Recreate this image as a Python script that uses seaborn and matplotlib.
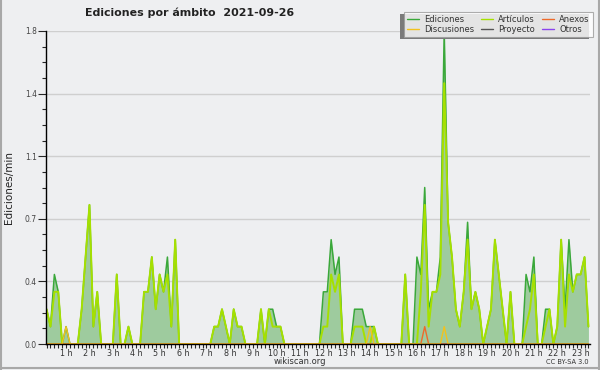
import matplotlib
matplotlib.use('Agg')
import matplotlib.pyplot as plt
import seaborn as sns
import pandas as pd
from matplotlib.ticker import MultipleLocator, FormatStrFormatter
from matplotlib.patches import Rectangle
from matplotlib.lines import Line2D
from matplotlib.transforms import IdentityTransform

# edits per minute, 10-minute bins (bin 0 = 00:10)
ediciones = [
    0.2, 0.1, 0.4, 0.3, 0.0, 0.1, 0.0, 0.0, 0.0, 0.2,
    0.5, 0.8, 0.1, 0.3, 0.0, 0.0, 0.0, 0.0, 0.4, 0.0,
    0.0, 0.1, 0.0, 0.0, 0.0, 0.3, 0.3, 0.5, 0.2, 0.4,
    0.3, 0.5, 0.1, 0.6, 0.0, 0.0, 0.0, 0.0, 0.0, 0.0,
    0.0, 0.0, 0.0, 0.1, 0.1, 0.2, 0.1, 0.0, 0.2, 0.1,
    0.1, 0.0, 0.0, 0.0, 0.0, 0.2, 0.0, 0.2, 0.2, 0.1,
    0.1, 0.0, 0.0, 0.0, 0.0, 0.0, 0.0, 0.0, 0.0, 0.0,
    0.0, 0.3, 0.3, 0.6, 0.4, 0.5, 0.0, 0.0, 0.0, 0.2,
    0.2, 0.2, 0.1, 0.1, 0.1, 0.0, 0.0, 0.0, 0.0, 0.0,
    0.0, 0.0, 0.4, 0.0, 0.0, 0.5, 0.4, 0.9, 0.2, 0.3,
    0.3, 0.5, 1.8, 0.7, 0.5, 0.2, 0.1, 0.3, 0.7, 0.2,
    0.3, 0.2, 0.0, 0.1, 0.2, 0.6, 0.4, 0.2, 0.0, 0.3,
    0.0, 0.0, 0.0, 0.4, 0.3, 0.5, 0.0, 0.0, 0.2, 0.2,
    0.0, 0.1, 0.6, 0.2, 0.6, 0.3, 0.4, 0.4, 0.5, 0.1,
]
articulos = [
    0.2, 0.1, 0.3, 0.3, 0.0, 0.0, 0.0, 0.0, 0.0, 0.2,
    0.5, 0.8, 0.1, 0.3, 0.0, 0.0, 0.0, 0.0, 0.4, 0.0,
    0.0, 0.1, 0.0, 0.0, 0.0, 0.3, 0.3, 0.5, 0.2, 0.4,
    0.3, 0.4, 0.1, 0.6, 0.0, 0.0, 0.0, 0.0, 0.0, 0.0,
    0.0, 0.0, 0.0, 0.1, 0.1, 0.2, 0.1, 0.0, 0.2, 0.1,
    0.1, 0.0, 0.0, 0.0, 0.0, 0.2, 0.0, 0.2, 0.1, 0.1,
    0.1, 0.0, 0.0, 0.0, 0.0, 0.0, 0.0, 0.0, 0.0, 0.0,
    0.0, 0.1, 0.1, 0.4, 0.3, 0.4, 0.0, 0.0, 0.0, 0.1,
    0.1, 0.1, 0.0, 0.0, 0.1, 0.0, 0.0, 0.0, 0.0, 0.0,
    0.0, 0.0, 0.4, 0.0, 0.0, 0.0, 0.3, 0.8, 0.1, 0.3,
    0.3, 0.4, 1.5, 0.7, 0.5, 0.2, 0.1, 0.3, 0.6, 0.2,
    0.3, 0.2, 0.0, 0.1, 0.2, 0.6, 0.4, 0.2, 0.0, 0.3,
    0.0, 0.0, 0.0, 0.1, 0.2, 0.4, 0.0, 0.0, 0.1, 0.2,
    0.0, 0.1, 0.6, 0.1, 0.4, 0.3, 0.4, 0.4, 0.5, 0.1,
]
anexos = [
    0.0, 0.0, 0.0, 0.0, 0.0, 0.0, 0.0, 0.0, 0.0, 0.0,
    0.0, 0.0, 0.0, 0.0, 0.0, 0.0, 0.0, 0.0, 0.0, 0.0,
    0.0, 0.0, 0.0, 0.0, 0.0, 0.0, 0.0, 0.0, 0.0, 0.0,
    0.0, 0.0, 0.0, 0.0, 0.0, 0.0, 0.0, 0.0, 0.0, 0.0,
    0.0, 0.0, 0.0, 0.0, 0.0, 0.0, 0.0, 0.0, 0.0, 0.0,
    0.0, 0.0, 0.0, 0.0, 0.0, 0.0, 0.0, 0.0, 0.0, 0.0,
    0.0, 0.0, 0.0, 0.0, 0.0, 0.0, 0.0, 0.0, 0.0, 0.0,
    0.0, 0.0, 0.0, 0.0, 0.0, 0.0, 0.0, 0.0, 0.0, 0.0,
    0.0, 0.0, 0.0, 0.0, 0.0, 0.0, 0.0, 0.0, 0.0, 0.0,
    0.0, 0.0, 0.0, 0.0, 0.0, 0.0, 0.0, 0.1, 0.0, 0.0,
    0.0, 0.0, 0.0, 0.0, 0.0, 0.0, 0.0, 0.0, 0.0, 0.0,
    0.0, 0.0, 0.0, 0.0, 0.0, 0.0, 0.0, 0.0, 0.0, 0.0,
    0.0, 0.0, 0.0, 0.0, 0.0, 0.0, 0.0, 0.0, 0.0, 0.0,
    0.0, 0.0, 0.0, 0.0, 0.0, 0.0, 0.0, 0.0, 0.0, 0.0,
]
discusiones = [
    0.0, 0.0, 0.0, 0.0, 0.0, 0.1, 0.0, 0.0, 0.0, 0.0,
    0.0, 0.0, 0.0, 0.0, 0.0, 0.0, 0.0, 0.0, 0.0, 0.0,
    0.0, 0.0, 0.0, 0.0, 0.0, 0.0, 0.0, 0.0, 0.0, 0.0,
    0.0, 0.0, 0.0, 0.0, 0.0, 0.0, 0.0, 0.0, 0.0, 0.0,
    0.0, 0.0, 0.0, 0.0, 0.0, 0.0, 0.0, 0.0, 0.0, 0.0,
    0.0, 0.0, 0.0, 0.0, 0.0, 0.0, 0.0, 0.0, 0.0, 0.0,
    0.0, 0.0, 0.0, 0.0, 0.0, 0.0, 0.0, 0.0, 0.0, 0.0,
    0.0, 0.0, 0.0, 0.0, 0.0, 0.0, 0.0, 0.0, 0.0, 0.0,
    0.0, 0.0, 0.0, 0.1, 0.0, 0.0, 0.0, 0.0, 0.0, 0.0,
    0.0, 0.0, 0.0, 0.0, 0.0, 0.0, 0.0, 0.0, 0.0, 0.0,
    0.0, 0.0, 0.1, 0.0, 0.0, 0.0, 0.0, 0.0, 0.0, 0.0,
    0.0, 0.0, 0.0, 0.0, 0.0, 0.0, 0.0, 0.0, 0.0, 0.0,
    0.0, 0.0, 0.0, 0.0, 0.0, 0.0, 0.0, 0.0, 0.0, 0.0,
    0.0, 0.0, 0.0, 0.0, 0.0, 0.0, 0.0, 0.0, 0.0, 0.0,
]
proyecto = [0.0] * len(ediciones)
otros = [0.0] * len(ediciones)

hour_labels = ['1 h', '2 h', '3 h', '4 h', '5 h', '6 h', '7 h', '8 h', '9 h', '10 h',
               '11 h', '12 h', '13 h', '14 h', '15 h', '16 h', '17 h', '18 h', '19 h',
               '20 h', '21 h', '22 h', '23 h']
ytick_vals = [0.0, 0.36, 0.72, 1.08, 1.44, 1.8]

df = pd.DataFrame({'bin': range(len(ediciones)), 'Ediciones': ediciones,
                   'Artículos': articulos, 'Anexos': anexos,
                   'Discusiones': discusiones, 'Proyecto': proyecto, 'Otros': otros})

colors = {'Ediciones': '#3aa83a', 'Artículos': '#a6e000', 'Anexos': '#ee6a2a',
          'Discusiones': '#f2c21e', 'Proyecto': '#555555', 'Otros': '#8a44ee'}
widths = {'Ediciones': 1.1, 'Artículos': 1.4, 'Anexos': 1.0,
          'Discusiones': 1.0, 'Proyecto': 1.0, 'Otros': 1.0}

sns.set_style('white')
plt.rcParams['font.family'] = ['DejaVu Sans']
bg = '#eeeff1'

fig = plt.figure(figsize=(6, 3.7), dpi=100, facecolor=bg)
ax = fig.add_axes([46/600, 26/370, 544/600, 313/370])
ax.set_facecolor(bg)

ax.fill_between(df['bin'], df['Ediciones'], color='#9ecb9e', lw=0, zorder=1)
handles = {}
for name, z in [('Proyecto', 2), ('Otros', 2), ('Ediciones', 3), ('Artículos', 4),
                ('Anexos', 5), ('Discusiones', 5)]:
    sns.lineplot(data=df, x='bin', y=name, ax=ax, color=colors[name], lw=widths[name],
                 zorder=z, legend=False)
    handles[name] = Line2D([0], [0], color=colors[name], lw=1.0)

ax.set_xlim(-0.15, 139.4)
ax.set_ylim(0, 1.8)
ax.set_xticks([6 * h - 1 for h in range(1, 24)])
ax.set_xticklabels(hour_labels)
ax.xaxis.set_minor_locator(MultipleLocator(1))
ax.set_yticks(ytick_vals)
ax.yaxis.set_major_formatter(FormatStrFormatter('%.1f'))
ax.yaxis.set_minor_locator(MultipleLocator(0.09))
ax.tick_params(axis='x', which='major', length=3, width=0.8, pad=0.5,
               labelsize=5.8, labelcolor='#333333', bottom=True)
ax.tick_params(axis='x', which='minor', length=3, width=0.8, bottom=True)
ax.tick_params(axis='y', which='major', length=6, width=0.8, pad=0.5,
               labelsize=5.5, labelcolor='#444444', left=True)
ax.tick_params(axis='y', which='minor', length=3, width=0.8, left=True)
ax.set_xlabel('')
ax.set_ylabel('')
ax.grid(axis='y', which='major', color='#cfcfcf', lw=1)
ax.set_axisbelow(True)
for side in ['top', 'right']:
    ax.spines[side].set_visible(False)
for side in ['left', 'bottom']:
    ax.spines[side].set_color('black')
    ax.spines[side].set_linewidth(1)
    ax.spines[side].set_zorder(10)

fig.text(9/600, 1 - 188/370, 'Ediciones/min', rotation=90, ha='center', va='center',
         fontsize=7.5, color='#222222')
fig.text(85/600, 1 - 13/370, 'Ediciones por ámbito  2021-09-26', ha='left', va='center',
         fontsize=7.9, fontweight='bold', color='#222222')
fig.text(300/600, 1 - 361.5/370, 'wikiscan.org', ha='center', va='center',
         fontsize=6, color='#333333')
fig.text(589/600, 1 - 362.5/370, 'CC BY-SA 3.0', ha='right', va='center',
         fontsize=4.8, color='#333333')

order = ['Ediciones', 'Discusiones', 'Artículos', 'Proyecto', 'Anexos', 'Otros']
leg = fig.legend([handles[n] for n in order], order, ncol=3, loc='upper right',
                 bbox_to_anchor=(592.7/600, 1 - 11.7/370), bbox_transform=fig.transFigure,
                 frameon=True, fancybox=False, fontsize=6, handlelength=1.5,
                 handletextpad=0.6, columnspacing=0.8, labelspacing=0.15,
                 borderpad=0.35, borderaxespad=0)
leg.get_frame().set_facecolor('white')
leg.get_frame().set_edgecolor('#9a9a9a')
leg.get_frame().set_linewidth(0.8)
leg.set_zorder(6)
for t in leg.get_texts():
    t.set_color('#333333')

fig.canvas.draw()
bb = leg.get_window_extent()
fig.add_artist(Rectangle((bb.x0 - 3.7, bb.y0 - 2.7), bb.width, bb.height,
                         facecolor='#7a7a7a', edgecolor='none', zorder=5,
                         transform=IdentityTransform()))

for xs, ys in [([0.8/600, 0.8/600], [0, 1]), ([598.5/600, 598.5/600], [0, 1]),
               ([0, 1], [2.5/370, 2.5/370])]:
    fig.add_artist(Line2D(xs, ys, color='#a8a8a8', lw=1.5, transform=fig.transFigure))

fig.savefig('out.png', dpi=100, facecolor=bg)
